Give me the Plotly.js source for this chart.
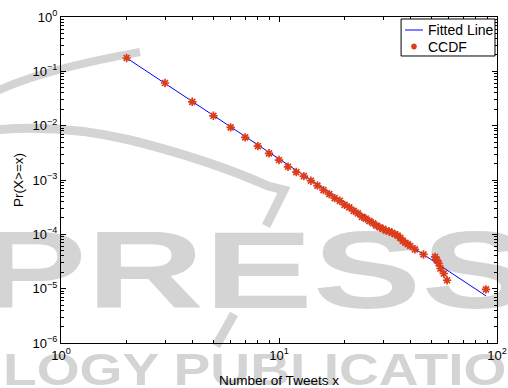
<!DOCTYPE html>
<html>
<head>
<meta charset="utf-8">
<script src="https://cdn.plot.ly/plotly-3.0.1.min.js"></script>
<style>
  html, body { margin: 0; padding: 0; background: #ffffff; }
  #wrap { position: relative; width: 508px; height: 388px; overflow: hidden; }
  #wm { position: absolute; left: 0; top: 0; }
  #chart { position: absolute; left: 0; top: 0; width: 508px; height: 388px; }
</style>
</head>
<body>
<div id="wrap">
  <svg id="wm" width="508" height="388" xmlns="http://www.w3.org/2000/svg">
    <path d="M -5 92 Q 40 70 140 52" fill="none" stroke="#d4d4d4" stroke-width="8"/>
    <path d="M -5 130 Q 60 124 130 140 Q 210 160 268 186 L 284 190 L 266 226" fill="none" stroke="#d4d4d4" stroke-width="9"/>
    <path d="M 234 314 L 216 346" fill="none" stroke="#d4d4d4" stroke-width="9"/>
    <text x="-22" y="308" font-family="Liberation Sans, Arial, sans-serif" font-weight="bold" font-size="110" fill="#d4d4d4" textLength="552" lengthAdjust="spacingAndGlyphs">PRESS</text>
    <text x="3" y="385" font-family="Liberation Sans, Arial, sans-serif" font-weight="bold" font-size="44" fill="#d4d4d4" textLength="580" lengthAdjust="spacingAndGlyphs">LOGY PUBLICATIONS</text>
  </svg>
  <div id="chart"></div>
</div>
<script>
// CCDF points
const ccdfX = [2, 3, 4, 5, 6, 7, 8, 9, 10, 11, 12, 13, 14, 15, 16, 17, 18, 19, 20,
               21, 22, 23, 24, 25, 26, 27, 28, 29, 30, 31, 32, 33, 34, 35, 36, 37, 38, 39, 40,
               42, 46, 52, 53, 54, 55, 57, 59, 89];
const ccdfY = [0.176, 0.061, 0.0275, 0.0152, 0.0093, 0.0061, 0.0042, 0.0031, 0.00233,
               0.00175, 0.0014, 0.00118, 9.7e-4, 7.9e-4, 6.5e-4, 5.5e-4, 4.64e-4, 4.14e-4, 3.49e-4,
               3.13e-4, 2.71e-4, 2.43e-4, 2.1e-4, 1.95e-4, 1.75e-4, 1.6e-4, 1.45e-4, 1.34e-4, 1.26e-4,
               1.17e-4, 1.13e-4, 1.07e-4, 1.01e-4, 9.5e-5, 8.6e-5, 7.6e-5, 7.0e-5, 6.6e-5, 6.1e-5,
               5.3e-5, 4.26e-5, 3.85e-5, 3.35e-5, 2.91e-5, 2.35e-5, 1.9e-5, 1.43e-5, 9.7e-6];
// Fitted line endpoints
const fitX = [2, 89];
const fitY = [0.176, 7.36e-6];

// Series names (legend labels)
const seriesNames = ['Fitted Line', 'CCDF'];

// Tick values and labels
const xTickVals = [1, 10, 100];
const xTickText = ['10<sup>0</sup>', '10<sup>1</sup>', '10<sup>2</sup>'];
const yTickVals = [1e-6, 1e-5, 1e-4, 1e-3, 1e-2, 1e-1, 1];
const yTickText = ['10<sup>−6</sup>', '10<sup>−5</sup>', '10<sup>−4</sup>', '10<sup>−3</sup>',
                   '10<sup>−2</sup>', '10<sup>−1</sup>', '10<sup>0</sup>'];
const minorMult = [2, 3, 4, 5, 6, 7, 8, 9];
const xMinorVals = [1, 10].flatMap(d => minorMult.map(m => m * d));
const yMinorVals = [1e-6, 1e-5, 1e-4, 1e-3, 1e-2, 1e-1].flatMap(d => minorMult.map(m => m * d));

const FONT = 'Liberation Sans, Arial, sans-serif';
const tickFont = {family: FONT, size: 13, color: '#000'};
const titleFont = {family: FONT, size: 13.5, color: '#000'};
const lineColor = '#0000ff';
const markColor = '#dc3c1a';

const traces = [
  {x: fitX, y: fitY, mode: 'lines', name: seriesNames[0], showlegend: false,
   line: {color: lineColor, width: 1}},
  {x: ccdfX, y: ccdfY, mode: 'markers', name: seriesNames[1], showlegend: false,
   marker: {symbol: 'asterisk', size: 7, color: markColor, line: {color: markColor, width: 1.7}}}
];

const commonAxis = {
  type: 'log', tickmode: 'array',
  showline: true, linecolor: '#000', linewidth: 1, mirror: 'ticks',
  ticks: 'inside', ticklen: 5, tickcolor: '#000', tickwidth: 1,
  showgrid: false, zeroline: false, tickfont: tickFont
};

// Legend box drawn in paper space (Matlab-style compact legend)
const L = {x0: 0.780, x1: 0.9954, y0: 0.8804, y1: 0.9939};
const row1 = 0.9601, row2 = 0.9095;
const ax = 0.00688, ay = 0.0092; // asterisk half-size in paper units
const mx = 0.8096;               // asterisk centre
const shapes = [
  {type: 'rect', xref: 'paper', yref: 'paper', x0: L.x0, x1: L.x1, y0: L.y0, y1: L.y1,
   line: {color: '#000', width: 1}, fillcolor: '#ffffff', layer: 'above'},
  {type: 'line', xref: 'paper', yref: 'paper', x0: 0.789, x1: 0.8303, y0: row1, y1: row1,
   line: {color: lineColor, width: 1}},
  {type: 'path', xref: 'paper', yref: 'paper',
   path: `M ${mx-ax} ${row2} L ${mx+ax} ${row2} M ${mx} ${row2-ay} L ${mx} ${row2+ay} ` +
         `M ${mx-ax*0.7} ${row2-ay*0.7} L ${mx+ax*0.7} ${row2+ay*0.7} ` +
         `M ${mx-ax*0.7} ${row2+ay*0.7} L ${mx+ax*0.7} ${row2-ay*0.7}`,
   line: {color: markColor, width: 1.5}}
];
const annotations = [
  {xref: 'paper', yref: 'paper', x: 0.8372, y: row1, xanchor: 'left', yanchor: 'middle',
   text: seriesNames[0], showarrow: false, font: {family: FONT, size: 14, color: '#000'}},
  {xref: 'paper', yref: 'paper', x: 0.8372, y: row2, xanchor: 'left', yanchor: 'middle',
   text: seriesNames[1], showarrow: false, font: {family: FONT, size: 14, color: '#000'}}
];

const layout = {
  width: 508, height: 388,
  margin: {l: 61, r: 11, t: 17, b: 45},
  paper_bgcolor: 'rgba(0,0,0,0)', plot_bgcolor: 'rgba(0,0,0,0)',
  showlegend: false,
  shapes: shapes,
  annotations: annotations,
  xaxis: Object.assign({}, commonAxis, {range: [0, 2],
          tickvals: xTickVals, ticktext: xTickText,
          minor: {tickmode: 'array', tickvals: xMinorVals, ticks: 'inside', ticklen: 3, tickcolor: '#000', showgrid: false},
          title: {text: 'Number of Tweets x', font: titleFont, standoff: 13}}),
  yaxis: Object.assign({}, commonAxis, {range: [-6, 0],
          tickvals: yTickVals, ticktext: yTickText,
          minor: {tickmode: 'array', tickvals: yMinorVals, ticks: 'inside', ticklen: 3, tickcolor: '#000', showgrid: false},
          title: {text: 'Pr(X>=x)', font: titleFont, standoff: 5}})
};

Plotly.newPlot('chart', traces, layout, {displayModeBar: false, staticPlot: true});
</script>
</body>
</html>
